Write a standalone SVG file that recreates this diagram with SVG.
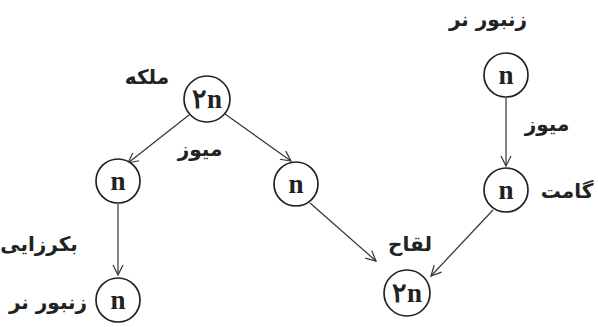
<svg xmlns="http://www.w3.org/2000/svg" width="598" height="327" viewBox="0 0 598 327">
<style>
.node circle{fill:#fff;stroke:#222;stroke-width:1.7}
.sym{font-family:"Liberation Serif","DejaVu Serif",serif;font-size:27px;font-weight:bold;fill:#222;text-anchor:middle}
.fa{font-family:"DejaVu Sans","Noto Sans",sans-serif;font-size:20px;font-weight:bold;fill:#222;text-anchor:middle}
.conn line{stroke:#333;stroke-width:1.2;marker-end:url(#arr)}
</style>
<defs>
<marker id="arr" viewBox="0 0 12 12" refX="11" refY="6" markerWidth="12" markerHeight="12" markerUnits="userSpaceOnUse" orient="auto">
<path d="M1,1 L11,6 L1,11" fill="none" stroke="#333" stroke-width="1.2"/>
</marker>
</defs>
<rect width="598" height="327" fill="#fff"/>
<g class="conn">
<line x1="189" y1="115" x2="128" y2="163"/>
<line x1="225" y1="114" x2="291" y2="161"/>
<line x1="118" y1="204" x2="118" y2="275"/>
<line x1="506" y1="98" x2="506" y2="166"/>
<line x1="310" y1="203" x2="376" y2="261"/>
<line x1="493" y1="210" x2="431" y2="276"/>
</g>
<g id="queen" class="node"><circle cx="207" cy="99" r="23"/><text class="sym" x="207" y="108">۲n</text><text class="fa" x="147" y="84">ملکه</text></g>
<g id="left_n" class="node"><circle cx="118" cy="181" r="22"/><text class="sym" x="118" y="190">n</text></g>
<g id="drone_bottom" class="node"><circle cx="118" cy="300" r="22"/><text class="sym" x="118" y="309">n</text><text class="fa" x="48" y="309">زنبور نر</text></g>
<g id="mid_n" class="node"><circle cx="296" cy="184" r="22"/><text class="sym" x="296" y="193">n</text></g>
<g id="drone_top" class="node"><circle cx="506" cy="75" r="22"/><text class="sym" x="506" y="84">n</text><text class="fa" x="488" y="26">زنبور نر</text></g>
<g id="gamete" class="node"><circle cx="506" cy="190" r="22"/><text class="sym" x="506" y="199">n</text><text class="fa" x="567" y="198">گامت</text></g>
<g id="zygote" class="node"><circle cx="407" cy="293" r="23"/><text class="sym" x="407" y="302">۲n</text></g>
<g id="labels">
<text class="fa" x="200" y="156">میوز</text>
<text class="fa" x="547" y="131">میوز</text>
<text class="fa" x="39" y="251">بکرزایی</text>
<text class="fa" x="410" y="251">لقاح</text>
</g>
</svg>
